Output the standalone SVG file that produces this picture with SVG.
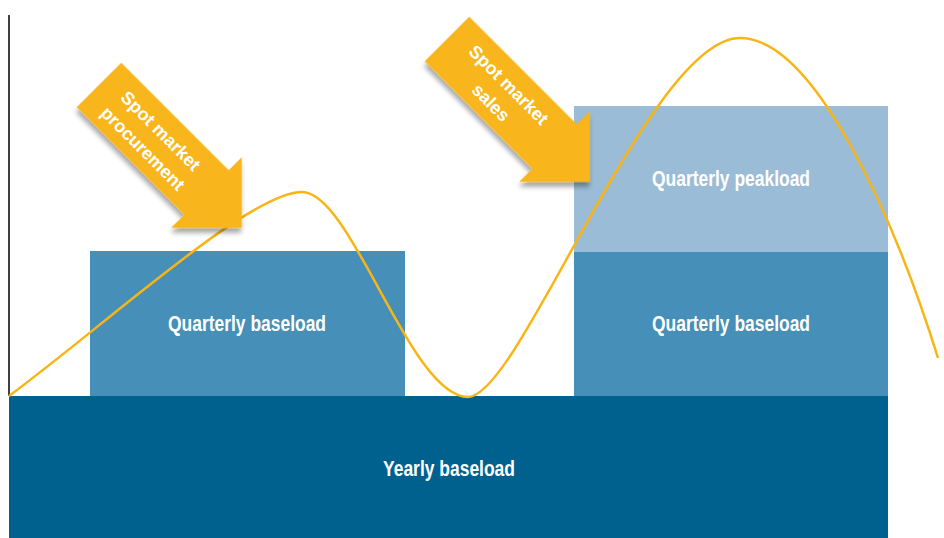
<svg xmlns="http://www.w3.org/2000/svg" width="944" height="538" viewBox="0 0 944 538">
<defs>
<style>
.lbl{font-family:"Liberation Sans","Arial",sans-serif;font-weight:bold;font-size:22px;fill:#fff;text-anchor:middle}
.atx{font-family:"Liberation Sans","Arial",sans-serif;font-weight:bold;font-size:18px;fill:#fff;text-anchor:middle}
.arrow{fill:#f9b51b;filter:url(#sh)}
.curve{fill:none;stroke:#f9b515;stroke-width:2.5}
</style>
<filter id="sh" x="-20%" y="-20%" width="150%" height="150%">
<feGaussianBlur in="SourceAlpha" stdDeviation="2.5"/>
<feOffset dx="3" dy="4" result="b"/>
<feComponentTransfer><feFuncA type="linear" slope="0.35"/></feComponentTransfer>
<feMerge><feMergeNode/><feMergeNode in="SourceGraphic"/></feMerge>
</filter>
<polygon id="arr" points="0,-31.5 152,-31.5 152,-50 202,0 152,50 152,31.5 0,31.5"/>
</defs>
<rect width="944" height="538" fill="#fff"/>
<g id="yearly">
<rect x="9" y="396" width="879" height="142" fill="#00618f"/>
<text class="lbl" x="449" y="476" textLength="132" lengthAdjust="spacingAndGlyphs">Yearly baseload</text>
</g>
<g id="qbase-left">
<rect x="90" y="251" width="315" height="145" fill="#468fb8"/>
<text class="lbl" x="247" y="331" textLength="158" lengthAdjust="spacingAndGlyphs">Quarterly baseload</text>
</g>
<g id="qbase-right">
<rect x="574" y="252" width="314" height="144" fill="#468fb8"/>
<text class="lbl" x="731" y="331" textLength="158" lengthAdjust="spacingAndGlyphs">Quarterly baseload</text>
</g>
<g id="qpeak-right">
<rect x="574" y="106" width="314" height="146" fill="#9abcd6"/>
<text class="lbl" x="731" y="186" textLength="158" lengthAdjust="spacingAndGlyphs">Quarterly peakload</text>
</g>
<g id="axis">
<line x1="9" y1="15" x2="9" y2="396" stroke="#000" stroke-width="1.5"/>
</g>
<g id="connectors">
<path class="curve" d="M9,396 C110,321 250,192 302,192 C352,192 410,397 468,397 C520,397 650,38 740,38 C815,38 895,220 938,358"/>
</g>
<g id="arrow-procurement" transform="translate(99,85) rotate(45)">
<use href="#arr" class="arrow"/>
<text class="atx" x="76" y="-5">Spot market</text>
<text class="atx" x="76" y="20">procurement</text>
</g>
<g id="arrow-sales" transform="translate(447,39) rotate(45)">
<use href="#arr" class="arrow"/>
<text class="atx" x="76" y="-5">Spot market</text>
<text class="atx" x="76" y="20">sales</text>
</g>
</svg>
